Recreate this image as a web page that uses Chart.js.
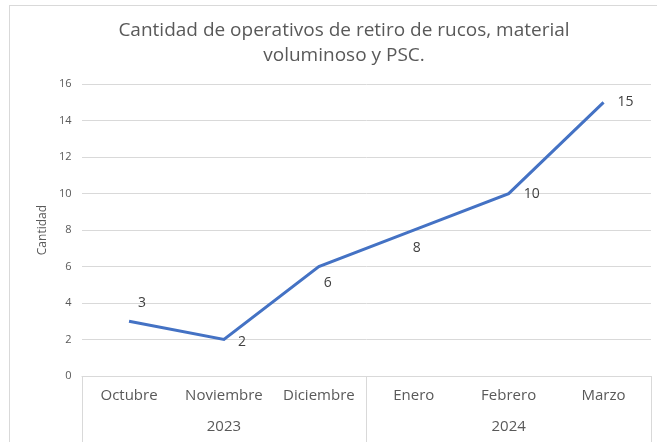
<!DOCTYPE html>
<html>
<head>
<meta charset="utf-8">
<script src="https://cdn.jsdelivr.net/npm/chart.js@4.4.1/dist/chart.umd.min.js"></script>
<style>
  html, body { margin: 0; padding: 0; background: #fff; overflow: hidden; }
  #wrap { position: relative; width: 657px; height: 442px; }
  #frame { position: absolute; left: 9px; top: 5px; width: 700px; height: 500px; border: 1px solid #d9d9d9; box-sizing: border-box; }
  canvas { position: absolute; left: 0; top: 0; }
</style>
</head>
<body>
<div id="wrap">
  <div id="frame"></div>
  <canvas id="myChart" width="657" height="442"></canvas>
</div>
<script>
'use strict';
const months = ['Octubre', 'Noviembre', 'Diciembre', 'Enero', 'Febrero', 'Marzo'];
const years = ['2023', '2024'];
const monthsPerYear = [3, 3];
const cantidad = [3, 2, 6, 8, 10, 15];

const fontName = "'Open Sans', 'Noto Sans', sans-serif";

// value labels next to each point (like excel's data labels)
const valueLabels = {
  id: 'valueLabels',
  afterDatasetsDraw(chart, args, opts) {
    const ctx = chart.ctx;
    const meta = chart.getDatasetMeta(0);
    ctx.save();
    ctx.font = '14px ' + fontName;
    ctx.fillStyle = '#404040';
    ctx.textAlign = 'center';
    ctx.textBaseline = 'middle';
    meta.data.forEach(function (pt, i) {
      const off = opts.offsets[i] || [0, 0];
      ctx.fillText(String(cantidad[i]), pt.x + off[0], pt.y + off[1]);
    });
    ctx.restore();
  }
};

// box around the two level category axis
const axisBox = {
  id: 'axisBox',
  afterDraw(chart) {
    const ctx = chart.ctx;
    const area = chart.chartArea;
    const bottom = chart.height + 5;
    ctx.save();
    ctx.strokeStyle = '#d9d9d9';
    ctx.lineWidth = 1;
    ctx.beginPath();
    ctx.moveTo(area.left, area.bottom + 0.5);
    ctx.lineTo(area.right, area.bottom + 0.5);
    let edges = [area.left];
    let n = 0;
    for (let k = 0; k < monthsPerYear.length; k++) {
      n += monthsPerYear[k];
      edges.push(area.left + (area.right - area.left) * n / months.length);
    }
    edges.forEach(function (ex) {
      const x = Math.round(ex) + 0.5;
      ctx.moveTo(x, area.bottom);
      ctx.lineTo(x, bottom);
    });
    ctx.stroke();
    ctx.restore();
  }
};

const ctx = document.getElementById('myChart').getContext('2d');
const chart = new Chart(ctx, {
  type: 'line',
  data: {
    labels: months,
    datasets: [{
      label: 'Cantidad',
      data: cantidad,
      borderColor: '#4472c4',
      backgroundColor: '#4472c4',
      borderWidth: 3,
      pointRadius: 0,
      tension: 0
    }]
  },
  options: {
    responsive: false,
    animation: false,
    layout: { padding: { left: 37, right: 6, top: 18, bottom: 4 } },
    plugins: {
      legend: { display: false },
      tooltip: { enabled: false },
      title: {
        display: true,
        text: ['Cantidad de operativos de retiro de rucos, material', 'voluminoso y PSC.'],
        color: '#595959',
        font: { family: fontName, size: 19, weight: 'normal', lineHeight: 1.32 },
        padding: { top: 0, bottom: 16 }
      },
      valueLabels: {
        offsets: [[13, -18], [18, 2], [9, 16], [3, 18], [23, 0], [22, 0]]
      }
    },
    scales: {
      y: {
        min: 0,
        max: 16,
        ticks: { stepSize: 2, color: '#595959', font: { family: fontName, size: 11 }, padding: 10 },
        grid: { color: '#d9d9d9', drawTicks: false },
        border: { display: false },
        title: { display: true, text: 'Cantidad', color: '#595959', font: { family: fontName, size: 12, lineHeight: 1 }, padding: { top: 0, bottom: 0 } }
      },
      x: {
        position: 'bottom',
        offset: true,
        grid: { display: false, drawTicks: false },
        border: { display: false },
        ticks: { color: '#595959', font: { family: fontName, size: 15 }, padding: 11, maxRotation: 0, autoSkip: false }
      },
      x2: {
        type: 'category',
        position: 'bottom',
        labels: years,
        offset: true,
        grid: { display: false, drawTicks: false },
        border: { display: false },
        ticks: { color: '#595959', font: { family: fontName, size: 15 }, padding: 2, maxRotation: 0 }
      }
    }
  },
  plugins: [valueLabels, axisBox]
});
</script>
</body>
</html>
